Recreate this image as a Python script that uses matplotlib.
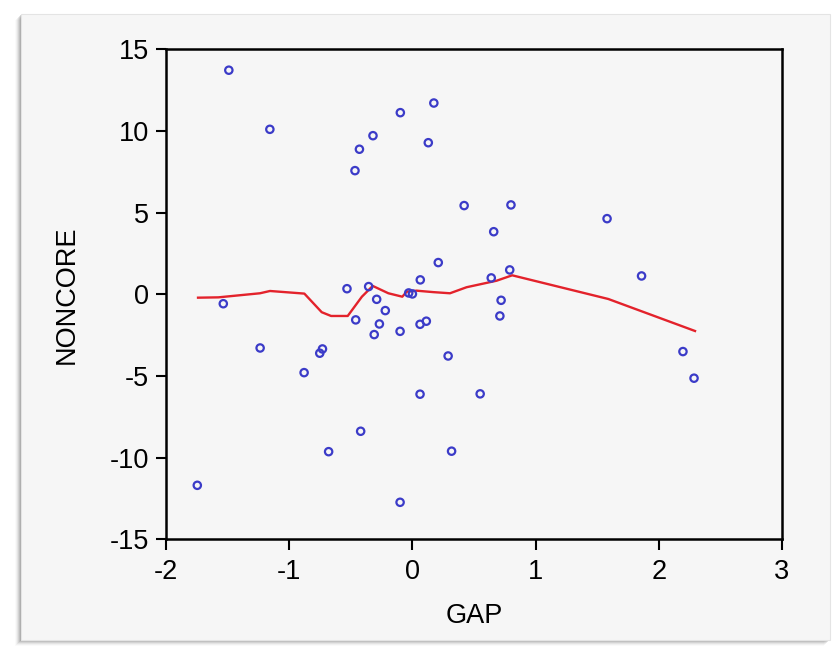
import matplotlib
matplotlib.use("Agg")
import matplotlib.pyplot as plt
from matplotlib.patches import Rectangle

# scatter data
gap = [-1.49, -1.157, -0.098, 0.174, -0.32, -0.43, 0.129, -0.466, 0.42, 0.80,
       0.66, 1.58, 0.21, 0.064, 0.79, 0.64, 1.86, -0.531, -0.355, -0.03,
       0.0, -0.29, -0.22, 0.72, -0.46, -0.268, 0.062, 0.113, 0.71, -0.31,
       -0.10, -1.535, -1.236, -0.73, -0.752, -0.879, 0.29, 0.062, 0.55, 2.196,
       2.286, -0.42, -0.68, 0.318, -1.746, -0.10]
noncore = [13.72, 10.10, 11.12, 11.71, 9.71, 8.88, 9.28, 7.57, 5.43, 5.47,
           3.83, 4.63, 1.94, 0.88, 1.49, 1.00, 1.12, 0.34, 0.47, 0.08,
           0.02, -0.31, -1.00, -0.37, -1.57, -1.82, -1.84, -1.65, -1.33, -2.47,
           -2.27, -0.58, -3.29, -3.35, -3.61, -4.80, -3.78, -6.12, -6.10, -3.51,
           -5.14, -8.39, -9.64, -9.61, -11.70, -12.74]

# fitted (nearest-neighbour) curve
fit_x = [-1.74, -1.575, -1.237, -1.156, -0.877, -0.736, -0.66, -0.525, -0.41,
         -0.322, -0.195, -0.082, -0.046, 0.035, 0.062, 0.17, 0.305, 0.44,
         0.684, 0.81, 1.59, 2.294]
fit_y = [-0.21, -0.19, 0.06, 0.20, 0.04, -1.10, -1.33, -1.33, -0.15,
         0.51, 0.06, -0.15, 0.16, 0.22, 0.20, 0.13, 0.06, 0.43,
         0.83, 1.16, -0.29, -2.25]

plt.rcParams["font.family"] = ["Liberation Sans", "DejaVu Sans"]
plt.rcParams["axes.unicode_minus"] = False

W, H = 833, 653
fig = plt.figure(figsize=(W / 100, H / 100), dpi=100)
fig.patch.set_facecolor("white")

# panel with soft shadow (left and bottom darker)
for i, a in enumerate([0.04, 0.07, 0.11, 0.16, 0.22, 0.3]):
    d = 6 - i
    fig.patches.append(Rectangle(((21 - d) / W, (H - 640 - d) / H),
                                 809 / W, 626 / H,
                                 transform=fig.transFigure, facecolor="#808080",
                                 edgecolor="none", alpha=a, zorder=-3))
fig.patches.append(Rectangle((21 / W, (H - 640) / H), 809 / W, 626 / H,
                             transform=fig.transFigure, facecolor="#f6f6f6",
                             edgecolor="#e4e4e4", lw=0.8, zorder=-2))

ax = fig.add_axes([166 / W, 1 - 539.2 / H, 616 / W, 489.9 / H])
ax.set_facecolor("#f6f6f6")

ax.plot(fit_x, fit_y, color="#e3222b", lw=1.7, zorder=2)
ax.scatter(gap, noncore, s=28, facecolors="none", edgecolors="#3b3bc8",
           linewidths=1.6, zorder=3)

ax.set_xlim(-2, 3)
ax.set_ylim(-15, 15)
ax.set_xticks([-2, -1, 0, 1, 2, 3])
ax.set_yticks([-15, -10, -5, 0, 5, 10, 15])

for s in ax.spines.values():
    s.set_linewidth(1.8)
    s.set_color("black")

ax.tick_params(axis="both", direction="out", width=1.5, labelsize=19.5,
               colors="black")
ax.tick_params(axis="y", length=7, pad=5)
ax.tick_params(axis="x", length=8, pad=6)

ax.set_xlabel("GAP", fontsize=19.5, labelpad=13)
ax.set_ylabel("NONCORE", fontsize=19.5, labelpad=22)

fig.savefig("out.png", dpi=100, facecolor=fig.get_facecolor())
